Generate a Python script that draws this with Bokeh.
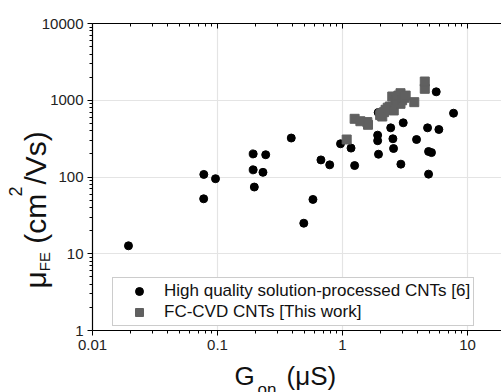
import math
from bokeh.plotting import figure
from bokeh.models import (LogAxis, FixedTicker, PrintfTickFormatter, Label,
                          Legend, LegendItem, ColumnDataSource)
from bokeh.embed import file_html
from bokeh.resources import INLINE

# ---------------- data ----------------
hq_name = "High quality solution-processed CNTs [6]"
hq_x = [0.0194, 0.0777, 0.0964, 0.0775, 0.193, 0.243, 0.193, 0.231, 0.197, 0.389,
        0.58, 0.49, 0.672, 0.79, 0.964, 1.17, 1.25, 1.93, 1.91, 1.91, 1.94, 2.43,
        2.53, 2.56, 2.93, 3.06, 3.91, 4.79, 4.88, 5.15, 4.88, 5.62, 5.9, 7.73]
hq_y = [12.7, 108, 95, 52, 200, 195, 124, 115, 74, 322,
        51, 25, 167, 144, 271, 238, 141, 692, 351, 297, 198, 437,
        315, 235, 147, 508, 308, 437, 215, 208, 109, 1288, 416, 678]

fc_name = "FC-CVD CNTs [This work]"
fc_x = [1.08, 1.25, 1.39, 1.58, 1.60, 2.04, 2.08, 2.00, 2.21, 2.15, 2.39, 2.30, 2.57,
        2.50, 2.65, 2.70, 2.91, 2.80, 2.91, 3.00, 3.13, 3.20, 3.75, 4.55, 4.55]
fc_y = [308, 573, 533, 519, 479, 678, 614, 640, 751, 700, 829, 800, 736,
        1119, 944, 1000, 899, 1150, 1236, 1000, 1077, 1150, 944, 1409, 1754]

x_ticks = [0.01, 0.1, 1, 10]
y_ticks = [1, 10, 100, 1000, 10000]
x_lim = (0.01, 18.7)
y_lim = (1, 10000)

# ---------------- figure ----------------
p = figure(frame_width=409, frame_height=307, x_axis_type="log", y_axis_type="log",
           x_range=x_lim, y_range=y_lim, output_backend="svg",
           toolbar_location=None, min_border_left=92, min_border_right=0,
           min_border_top=23, min_border_bottom=0)
p.outline_line_color = None
p.background_fill_color = "white"

def minors(ticks):
    out = []
    for t in ticks:
        for k in range(2, 10):
            out.append(t * k)
    return out

xt = FixedTicker(ticks=x_ticks, minor_ticks=minors(x_ticks))
yt = FixedTicker(ticks=y_ticks, minor_ticks=minors(y_ticks))

for ax, tk in ((p.xaxis[0], xt), (p.yaxis[0], yt)):
    ax.ticker = tk
    ax.formatter = PrintfTickFormatter(format="%g")
    ax.axis_line_color = "black"
    ax.axis_line_width = 1.2
    ax.major_tick_line_color = "black"
    ax.minor_tick_line_color = "black"
    ax.major_tick_out = 5
    ax.major_tick_in = 0
    ax.minor_tick_out = 3
    ax.minor_tick_in = 0
    ax.major_label_text_font = "Liberation Sans"
    ax.major_label_text_font_size = "15px"
    ax.major_label_text_color = "#222222"
    ax.major_label_standoff = 4

top = LogAxis(ticker=FixedTicker(ticks=x_ticks, minor_ticks=minors(x_ticks)),
              major_label_text_font_size="8px", major_label_text_color=None,
              major_tick_in=5, major_tick_out=0,
              minor_tick_in=3, minor_tick_out=0, axis_line_color="black",
              axis_line_width=1.2, major_label_standoff=0)
p.add_layout(top, "above")

p.xgrid.ticker = xt
p.ygrid.ticker = yt
p.xgrid.grid_line_color = "#e4e4e4"
p.ygrid.grid_line_color = "#e4e4e4"
p.xgrid.grid_line_width = 1.2
p.ygrid.grid_line_width = 1.2

# ---------------- glyphs ----------------
src_hq = ColumnDataSource(dict(x=hq_x, y=hq_y))
src_fc = ColumnDataSource(dict(x=fc_x, y=fc_y))
r_hq = p.scatter("x", "y", source=src_hq, marker="circle", size=8,
                 fill_color="black", line_color="black")
r_fc = p.scatter("x", "y", source=src_fc, marker="square", size=9,
                 fill_color="#606060", line_color="#606060")

legend = Legend(items=[LegendItem(label=hq_name, renderers=[r_hq]),
                       LegendItem(label=fc_name, renderers=[r_fc])],
                location=(20, 4), margin=0, padding=3, spacing=1,
                glyph_width=46, glyph_height=20, label_height=20,
                label_standoff=2, label_text_font="Liberation Sans",
                label_text_font_size="17px", label_text_color="#111111",
                border_line_color="#9a9a9a", border_line_width=1.5,
                background_fill_color="white", background_fill_alpha=1)
p.add_layout(legend, "center")

# ---------------- axis titles (rich text pieces, canvas pixels) ----------------
F = "Liberation Sans"
def lab(txt, x, y, size, angle=0.0):
    p.add_layout(Label(x=x, y=y, x_units="canvas", y_units="canvas", text=txt,
                       angle=angle, text_font=F, text_font_size=size,
                       text_color="#111111", text_align="left",
                       text_baseline="alphabetic"), "below")

rot = math.pi / 2
lab("\u03bc", 35, 288, "30px", rot)
lab("FE", 44, 270.7, "15px", rot)
lab("(cm", 35, 243.2, "30px", rot)
lab("2", 15, 196, "18px", rot)
lab("/Vs)", 35, 184, "30px", rot)

lab("G", 234, 375, "26px")
lab("on", 257, 389, "17px")
lab("(\u03bcS)", 286, 375, "26px")

open("out.html", "w").write(file_html(p, INLINE))
